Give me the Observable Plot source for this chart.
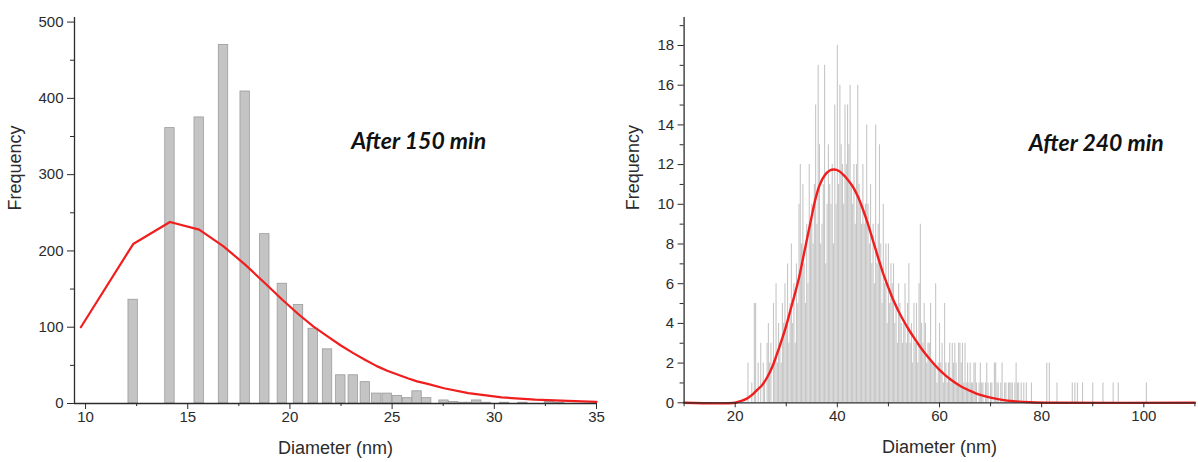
<!DOCTYPE html>
<html>
<head>
<meta charset="utf-8">
<script src="https://cdn.jsdelivr.net/npm/d3@7"></script>
<script src="https://cdn.jsdelivr.net/npm/@observablehq/plot@0.6"></script>
<style>
  html, body { margin: 0; padding: 0; background: #fff; }
  #wrap { display: flex; width: 1198px; height: 462px; }
  #left svg { overflow: visible; position: relative; z-index: 2; }
  #right svg { overflow: visible; }
</style>
</head>
<body>
<div id="wrap"><div id="left"></div><div id="right"></div></div>
<script>
// ---------- Left panel: after 150 min ----------
const diam150 = [12.33, 14.13, 15.56, 16.75, 17.81, 18.77, 19.63, 20.42, 21.14, 21.84, 22.49, 23.1, 23.69, 24.25, 24.76, 25.26, 25.76, 26.22, 26.69, 27.54, 28.0, 28.45, 28.8, 29.14, 29.6, 30.5, 31.4, 32.7, 33.2];
const freq150 = [136, 361, 375, 470, 409, 222, 157, 129, 98, 71, 37, 37, 28, 13, 13, 10, 7, 16, 7, 4, 2, 1, 1, 4, 1, 1, 1, 2, 1];
const fitX150 = [9.77, 12.33, 14.13, 15.56, 16.75, 17.81, 18.77, 19.63, 20.42, 21.14, 21.84, 22.49, 23.1, 23.69, 24.25, 24.76, 25.26, 25.76, 26.22, 26.69, 27.54, 28.73, 30.36, 32.0, 33.6, 35.0];
const fitY150 = [100, 209, 238, 228, 206, 182, 158, 136, 117, 101, 88, 76, 66, 57, 49, 43, 38, 33, 29, 26, 20, 13.5, 8, 5, 3.5, 2];
const xMajor150 = [10, 15, 20, 25, 30, 35];
const xMinor150 = [12.5, 17.5, 22.5, 27.5, 32.5];
const yMajor150 = [0, 100, 200, 300, 400, 500];
const yMinor150 = [50, 150, 250, 350, 450];

// ---------- Right panel: after 240 min ----------
const BIN_START = 22, BIN_STEP = 0.25;
const freq240 = [
  0,0,2,0,  0,1,0,5,  5,0,2,0,  3,0,2,1,  0,3,4,2,  3,0,5,2,  6,2,4,3,  2,5,4,6,   // 22-29
  4,7,3,5,  8,4,6,3,  7,5,10,12, 8,11,7,5, 9,6,12,9, 10,8,11,15, 9,17,13,8, 9,11,17,7, // 30-37
  10,13,11,10, 12,8,15,10, 18,11,16,13, 12,10,15,12, 15,13,16,11, 10,12,9,12, 16,11,10,9, 12,9,10,14, // 38-45
  10,8,11,7, 9,6,14,7, 9,13,8,5, 10,6,8,4, 8,5,7,6, 7,4,5,3, 6,5,4,3, 4,6,3,5, // 46-53
  7,3,4,2, 5,3,5,2, 6,9,4,3, 5,4,2,3, 3,5,2,2, 2,6,1,2, 4,2,3,1, 5,2,1,2, // 54-61
  3,1,3,2, 3,2,1,3, 3,2,3,1, 3,1,2,1, 2,1,1,2, 2,1,0,1, 2,1,1,0, 1,2,1,0, // 62-69
  1,1,0,2, 2,1,1,0, 1,2,0,1, 1,0,1,1, 1,1,0,1, 2,1,1,0, 1,0,1,0, 1,0,0,0, // 70-77
  1,0,0,0, 0,0,0,0 // 78-79
];
const tailDiam240 = [81, 81.5, 83, 86, 86.5, 87, 88, 90, 92, 94, 95, 100.5];
const tailFreq240 = [2, 2, 1, 1, 1, 1, 1, 1, 1, 1, 1, 1];
const fitX240 = [10, 20, 21, 22.2, 23.3, 24.3, 25.3, 26.3, 27.25, 28.1, 28.9, 29.9, 30.8, 31.7, 32.5, 33.3, 34.1, 34.9, 35.7, 36.5, 37.5, 38.5, 39.4, 40.3, 41.2, 42.0, 43.0, 44.0, 45.0, 46.0, 47.0, 48.0, 49.0, 50.0, 51.0, 52.0, 53.0, 54.0, 55.0, 56.0, 57.0, 58.0, 59.0, 60.0, 61.0, 62.0, 63.0, 64.0, 65.0, 66.0, 67.0, 68.0, 70.0, 72.0, 74.5, 77.8, 82, 110];
const fitY240 = [0, 0, 0.08, 0.2, 0.4, 0.65, 0.9, 1.3, 1.8, 2.4, 3.0, 3.8, 4.65, 5.5, 6.3, 7.3, 8.3, 9.3, 10.25, 10.95, 11.45, 11.7, 11.75, 11.68, 11.48, 11.25, 10.9, 10.4, 9.75, 9.0, 8.15, 7.3, 6.5, 5.8, 5.15, 4.6, 4.12, 3.68, 3.28, 2.9, 2.55, 2.23, 1.93, 1.66, 1.42, 1.21, 1.02, 0.86, 0.72, 0.6, 0.49, 0.4, 0.26, 0.16, 0.08, 0.03, 0.005, 0];
const xMajor240 = [20, 40, 60, 80, 100];
const xMinor240 = [10, 30, 50, 70, 90, 110];
const yMajor240 = [0, 2, 4, 6, 8, 10, 12, 14, 16, 18];
const yMinor240 = [1, 3, 5, 7, 9, 11, 13, 15, 17, 19];

// ---------- build tables ----------
const bars150 = diam150.map((d, i) => ({d, f: freq150[i]}));
const fit150 = fitX150.map((d, i) => ({d, f: fitY150[i]}));
const bars240 = freq240.map((f, i) => ({d: BIN_START + i * BIN_STEP, f}))
  .concat(tailDiam240.map((d, i) => ({d, f: tailFreq240[i]})))
  .filter(b => b.f > 0);
const fit240 = fitX240.map((d, i) => ({d, f: fitY240[i]}));

const AXIS = "#2b2b2b";
const RED = "#f01e1e";
const baseStyle = {fontFamily: "Arimo, 'Liberation Sans', Arial, sans-serif", fontSize: "15px", color: AXIS, background: "transparent"};
const noText = () => "";
const annoStyle = {fontFamily: "Lato, 'Open Sans', 'Liberation Sans', sans-serif", fontWeight: "bold", fontStyle: "italic", fontSize: 23, fill: "#111"};

const left = Plot.plot({
  width: 600, height: 462,
  marginLeft: 74, marginRight: 4, marginTop: 17, marginBottom: 59,
  x: {domain: [9.46, 35]},
  y: {domain: [0, 506]},
  style: baseStyle,
  marks: [
    Plot.rectY(bars150, {x1: d => d.d - 0.23, x2: d => d.d + 0.23, y: "f", fill: "#c4c4c4", stroke: "#9b9b9b", strokeWidth: 0.8}),
    Plot.line(fit150, {x: "d", y: "f", stroke: RED, strokeWidth: 2.2}),
    Plot.ruleY([0], {stroke: AXIS, strokeWidth: 1.3}),
    Plot.ruleX([9.46], {stroke: AXIS, strokeWidth: 1.3}),
    Plot.axisX(xMajor150, {tickSize: 6, tickPadding: 2, label: null}),
    Plot.axisX(xMinor150, {tickSize: 3, tickFormat: noText, label: null}),
    Plot.axisY(yMajor150, {tickSize: 7, tickPadding: 4, label: null}),
    Plot.axisY(yMinor150, {tickSize: 4, tickFormat: noText, label: null}),
    Plot.text(["Diameter (nm)"], {text: d => d, frameAnchor: "bottom", dy: 50, fontSize: 18, fill: AXIS}),
    Plot.text(["Frequency"], {text: d => d, frameAnchor: "left", dx: -59, rotate: -90, fontSize: 18, fill: AXIS}),
    Plot.text(["After 150 min"], {text: d => d, x: 26.3, y: 343, ...annoStyle})
  ]
});

const right = Plot.plot({
  width: 598, height: 462,
  marginLeft: 83.6, marginRight: 3.6, marginTop: 17, marginBottom: 59.7,
  x: {domain: [10, 110]},
  y: {domain: [0, 19.41]},
  style: baseStyle,
  marks: [
    Plot.ruleX(bars240, {x: "d", y1: 0, y2: "f", stroke: "#c6c6c6", strokeWidth: 1.1}),
    Plot.line(fit240, {x: "d", y: "f", stroke: RED, strokeWidth: 2.4, curve: "catmull-rom"}),
    Plot.ruleY([0], {stroke: AXIS, strokeWidth: 1.3}),
    Plot.ruleX([10], {stroke: AXIS, strokeWidth: 1.3}),
    Plot.axisX(xMajor240, {tickSize: 5, tickPadding: 3, label: null}),
    Plot.axisX(xMinor240, {tickSize: 4, tickFormat: noText, label: null}),
    Plot.axisY(yMajor240, {tickSize: 6, tickPadding: 4, label: null}),
    Plot.axisY(yMinor240, {tickSize: 4, tickFormat: noText, label: null}),
    Plot.text(["Diameter (nm)"], {text: d => d, frameAnchor: "bottom", dy: 50, fontSize: 18, fill: AXIS}),
    Plot.text(["Frequency"], {text: d => d, frameAnchor: "left", dx: -51, rotate: -90, fontSize: 18, fill: AXIS}),
    Plot.text(["After 240 min"], {text: d => d, x: 90.7, y: 13.07, ...annoStyle})
  ]
});

document.getElementById("left").appendChild(left);
document.getElementById("right").appendChild(right);
</script>
</body>
</html>
